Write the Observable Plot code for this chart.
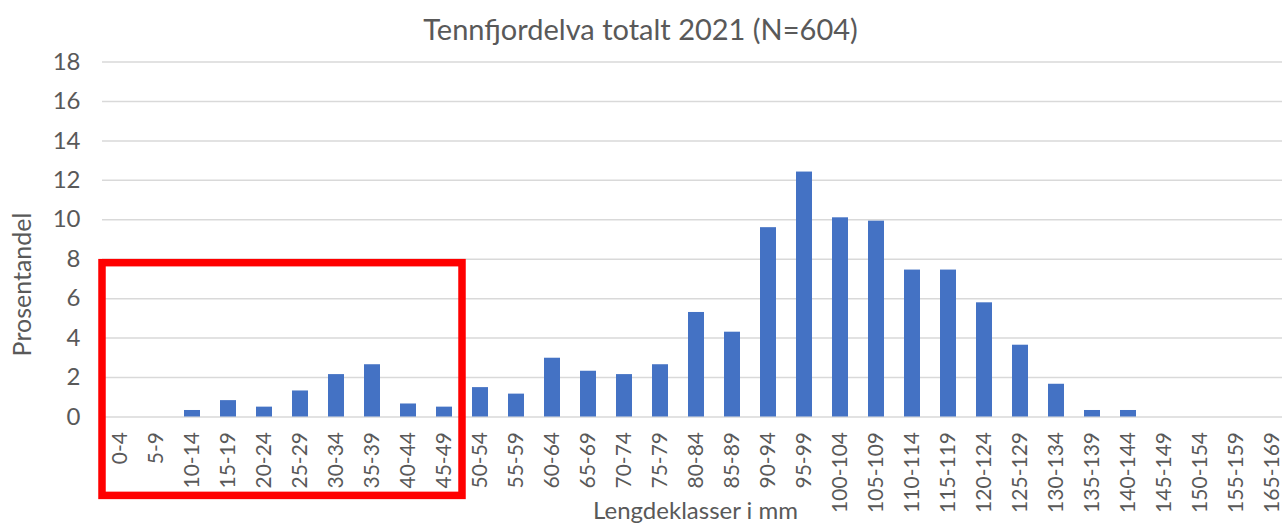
<!DOCTYPE html>
<html>
<head>
<meta charset="utf-8">
<script src="https://cdn.jsdelivr.net/npm/d3@7"></script>
<script src="https://cdn.jsdelivr.net/npm/@observablehq/plot@0.6"></script>
<style>
  html, body { margin: 0; padding: 0; background: #fff; overflow: hidden; }
  #chart svg { display: block; }
</style>
</head>
<body>
<div id="chart"></div>
<script>
const title = "Tennfjordelva totalt 2021 (N=604)";
const xLabel = "Lengdeklasser i mm";
const yLabel = "Prosentandel";

const categories = [
  "0-4", "5-9", "10-14", "15-19", "20-24", "25-29", "30-34", "35-39", "40-44", "45-49",
  "50-54", "55-59", "60-64", "65-69", "70-74", "75-79", "80-84", "85-89", "90-94", "95-99",
  "100-104", "105-109", "110-114", "115-119", "120-124", "125-129", "130-134", "135-139",
  "140-144", "145-149", "150-154", "155-159", "165-169"
];
const percent = [
  0, 0, 0.33, 0.83, 0.50, 1.32, 2.15, 2.65, 0.66, 0.50,
  1.49, 1.16, 2.98, 2.32, 2.15, 2.65, 5.30, 4.30, 9.60, 12.42,
  10.10, 9.93, 7.45, 7.45, 5.79, 3.64, 1.66, 0.33,
  0.33, 0, 0, 0, 0
];
const yTicks = [0, 2, 4, 6, 8, 10, 12, 14, 16, 18];

// highlighted range (red box)
const highlightFrom = "0-4";
const highlightTo = "45-49";
const highlightTop = 7.8;
const highlightBottom = -4;

const data = categories.map((c, i) => ({cls: c, pct: percent[i]}));

const W = 1282, H = 524;
const mLeft = 102, mTop = 61.5, mBottom = 107.5;
const xRight = 1290.7;

const chart = Plot.plot({
  width: W,
  height: H,
  marginLeft: mLeft,
  marginRight: 0,
  marginTop: mTop,
  marginBottom: mBottom,
  style: {fontFamily: "Lato, 'Open Sans', sans-serif", fontSize: "21px", color: "#595959", background: "#fff"},
  x: {
    domain: categories,
    range: [mLeft, xRight],
    paddingInner: 0.555,
    paddingOuter: 0.2775,
    label: null
  },
  y: {
    domain: [0, 18],
    label: null
  },
  marks: [
    Plot.ruleY(yTicks, {stroke: "#d9d9d9", strokeWidth: 1.5}),
    Plot.barY(data, {x: "cls", y: "pct", fill: "#4472C4"}),
    Plot.axisX({tickSize: 0, tickPadding: 15, tickRotate: -90, fontSize: 21, label: null, fill: "#595959"}),
    Plot.axisY({ticks: yTicks, tickSize: 0, tickPadding: 22, fontSize: 24, label: null, fill: "#595959"}),
    Plot.text([title], {text: d => d, frameAnchor: "top", dx: -52, dy: -31.5, fontSize: 29, fill: "#595959", lineAnchor: "middle", textAnchor: "middle"}),
    Plot.text([xLabel], {text: d => d, frameAnchor: "bottom", dx: 3, dy: 94, fontSize: 24, fill: "#595959", lineAnchor: "middle", textAnchor: "middle"}),
    Plot.text([yLabel], {text: d => d, frameAnchor: "left", dx: -80, dy: 45, rotate: -90, fontSize: 25, fill: "#595959", lineAnchor: "middle", textAnchor: "middle"})
  ]
});

document.getElementById("chart").appendChild(chart);

// red highlight box drawn through the chart's own scales
const sx = chart.scale("x"), sy = chart.scale("y");
const xs = d3.scaleBand(sx.domain, sx.range)
  .paddingInner(sx.paddingInner ?? 0.555)
  .paddingOuter(sx.paddingOuter ?? 0.2775)
  .align(sx.align ?? 0.5)
  .round(!!sx.round);
const ys = d3.scaleLinear(sy.domain, sy.range);
const step = xs.step();
const bx0 = xs(highlightFrom) + xs.bandwidth() / 2 - step / 2;
const bx1 = xs(highlightTo) + xs.bandwidth() / 2 + step / 2;
const by0 = ys(highlightTop), by1 = ys(highlightBottom);
d3.select(chart).append("rect")
  .attr("x", bx0).attr("y", by0)
  .attr("width", bx1 - bx0).attr("height", by1 - by0)
  .attr("fill", "none").attr("stroke", "#ff0000").attr("stroke-width", 7.5);
</script>
</body>
</html>
